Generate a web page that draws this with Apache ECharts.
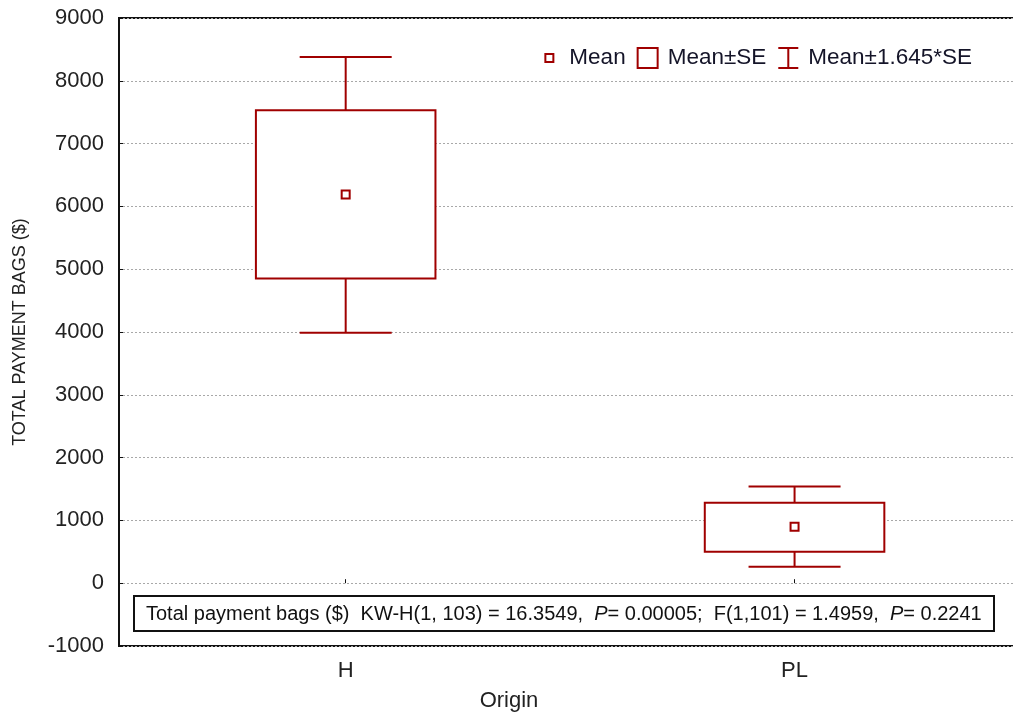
<!DOCTYPE html>
<html>
<head>
<meta charset="utf-8">
<script src="https://cdn.jsdelivr.net/npm/echarts@6/dist/echarts.min.js"></script>
<style>
html,body{margin:0;padding:0;background:#fff;}
#chart{width:1013px;height:713px;}
</style>
</head>
<body>
<div id="chart"></div>
<script>
// ---- data ----
const categories = ['H', 'PL'];
const means = [6190, 900];
const seLow = [4850, 500];
const seHigh = [7530, 1280];
const ciLow = [3990, 260];
const ciHigh = [8380, 1540];
const yTicks = [-1000, 0, 1000, 2000, 3000, 4000, 5000, 6000, 7000, 8000, 9000];
const statText = ['Total payment bags ($)', 'KW-H(1, 103) = 16.3549,', 'P', '= 0.00005;', 'F(1,101) = 1.4959,', 'P', '= 0.2241'];

const RED = '#a00000';
const FONT = '"Liberation Sans", Arial, sans-serif';
const BOX_HALF = 0.2;
const CAP_HALF = 0.1025;

const xPos = categories.map((c, i) => i + 1);

const meanData = means.map((m, i) => [xPos[i], m]);
const boxData = means.map((m, i) => [xPos[i], seLow[i], seHigh[i]]);
const whiskerData = means.map((m, i) => [xPos[i], ciLow[i], ciHigh[i], seLow[i], seHigh[i]]);

const chart = echarts.init(document.getElementById('chart'), null, {renderer: 'canvas'});

const option = {
  backgroundColor: '#fff',
  animation: false,
  textStyle: {fontFamily: FONT},
  grid: {
    left: 119, top: 18, width: 900, height: 628,
    outerBoundsMode: 'none',
    containLabel: false,
    show: true, borderColor: '#111', borderWidth: 2, backgroundColor: '#fff'
  },
  legend: {
    right: 36, top: 41,
    itemWidth: 22, itemHeight: 22, itemGap: 10,
    textStyle: {fontSize: 22.5, color: '#141428', fontFamily: FONT, padding: [0, 0, 0, 4]},
    data: [
      {name: 'Mean', icon: 'path://M0,0M22,22M7,7L15,7L15,15L7,15Z',
       itemStyle: {color: '#fff', borderColor: RED, borderWidth: 2}},
      {name: 'Mean±SE', icon: 'path://M0,0M22,22M1,1L21,1L21,21L1,21Z',
       itemStyle: {color: '#fff', borderColor: RED, borderWidth: 2}},
      {name: 'Mean±1.645*SE', icon: 'path://M0,0M22,22M1,1L21,1M11,1L11,21M1,21L21,21',
       itemStyle: {color: '#fff', borderColor: RED, borderWidth: 2}}
    ]
  },
  xAxis: {
    type: 'value',
    min: 0.495, max: 2.5,
    name: 'Origin',
    nameLocation: 'middle',
    nameGap: 44,
    nameTextStyle: {fontSize: 22, color: '#222', fontFamily: FONT, padding: [0, 120, 0, 0]},
    axisLine: {show: false},
    splitLine: {show: false},
    axisTick: {show: true, inside: true, length: 4, customValues: xPos, lineStyle: {color: '#111', width: 1}},
    axisLabel: {
      customValues: xPos, fontSize: 22, color: '#222', margin: 14, fontFamily: FONT,
      formatter: v => categories[Math.round(v) - 1] || ''
    }
  },
  yAxis: {
    type: 'value',
    min: -1000, max: 9000, interval: 1000,
    name: 'TOTAL PAYMENT BAGS ($)',
    nameLocation: 'middle',
    nameGap: 90,
    nameTextStyle: {fontSize: 18, color: '#222', fontFamily: FONT},
    axisLine: {show: false},
    axisTick: {show: true, inside: true, length: 4, lineStyle: {color: '#111', width: 1}},
    axisLabel: {fontSize: 22, color: '#222', margin: 15, fontFamily: FONT,
      customValues: yTicks, formatter: v => String(v)},
    splitLine: {show: true, lineStyle: {color: '#a8a8a8', type: [2, 2], width: 1}}
  },
  series: [
    {
      name: 'Mean±1.645*SE',
      type: 'custom',
      z: 2,
      data: whiskerData,
      encode: {x: 0, y: [1, 2]},
      renderItem: function (params, api) {
        const x = api.value(0), lo = api.value(1), hi = api.value(2), sl = api.value(3), sh = api.value(4);
        const top = api.coord([x, hi]), topS = api.coord([x, sh]);
        const bot = api.coord([x, lo]), botS = api.coord([x, sl]);
        const capL = api.coord([x - CAP_HALF, hi])[0], capR = api.coord([x + CAP_HALF, hi])[0];
        const st = {stroke: RED, lineWidth: 2};
        return {
          type: 'group',
          children: [
            {type: 'line', shape: {x1: top[0], y1: top[1], x2: topS[0], y2: topS[1]}, style: st},
            {type: 'line', shape: {x1: capL, y1: top[1], x2: capR, y2: top[1]}, style: st},
            {type: 'line', shape: {x1: bot[0], y1: bot[1], x2: botS[0], y2: botS[1]}, style: st},
            {type: 'line', shape: {x1: capL, y1: bot[1], x2: capR, y2: bot[1]}, style: st}
          ]
        };
      }
    },
    {
      name: 'Mean±SE',
      type: 'custom',
      z: 3,
      data: boxData,
      encode: {x: 0, y: [1, 2]},
      renderItem: function (params, api) {
        const x = api.value(0), lo = api.value(1), hi = api.value(2);
        const p1 = api.coord([x - BOX_HALF, hi]);
        const p2 = api.coord([x + BOX_HALF, lo]);
        return {
          type: 'rect',
          shape: {x: p1[0], y: p1[1], width: p2[0] - p1[0], height: p2[1] - p1[1]},
          style: {fill: '#fff', stroke: RED, lineWidth: 2}
        };
      }
    },
    {
      name: 'Mean',
      type: 'scatter',
      z: 4,
      data: meanData,
      symbol: 'rect',
      symbolSize: 8,
      itemStyle: {color: '#fff', borderColor: RED, borderWidth: 2, opacity: 1}
    }
  ],
  graphic: [
    {
      type: 'group',
      left: 133, top: 595,
      z: 100,
      children: [
        {type: 'rect', shape: {x: 0, y: 0, width: 860, height: 35},
         style: {fill: '#fff', stroke: '#111', lineWidth: 2}},
        {type: 'text', x: 12, y: 18,
         style: {
           text: statText[0] + '  ' + statText[1] + '  {i|' + statText[2] + '}' + statText[3] + '  ' + statText[4] + '  {i|' + statText[5] + '}' + statText[6],
           rich: {i: {fontStyle: 'italic', fontSize: 20, fontFamily: FONT, fill: '#111'}},
           fontSize: 20, fontFamily: FONT, fill: '#111', verticalAlign: 'middle'
         }}
      ]
    }
  ]
};

chart.setOption(option);
</script>
</body>
</html>
